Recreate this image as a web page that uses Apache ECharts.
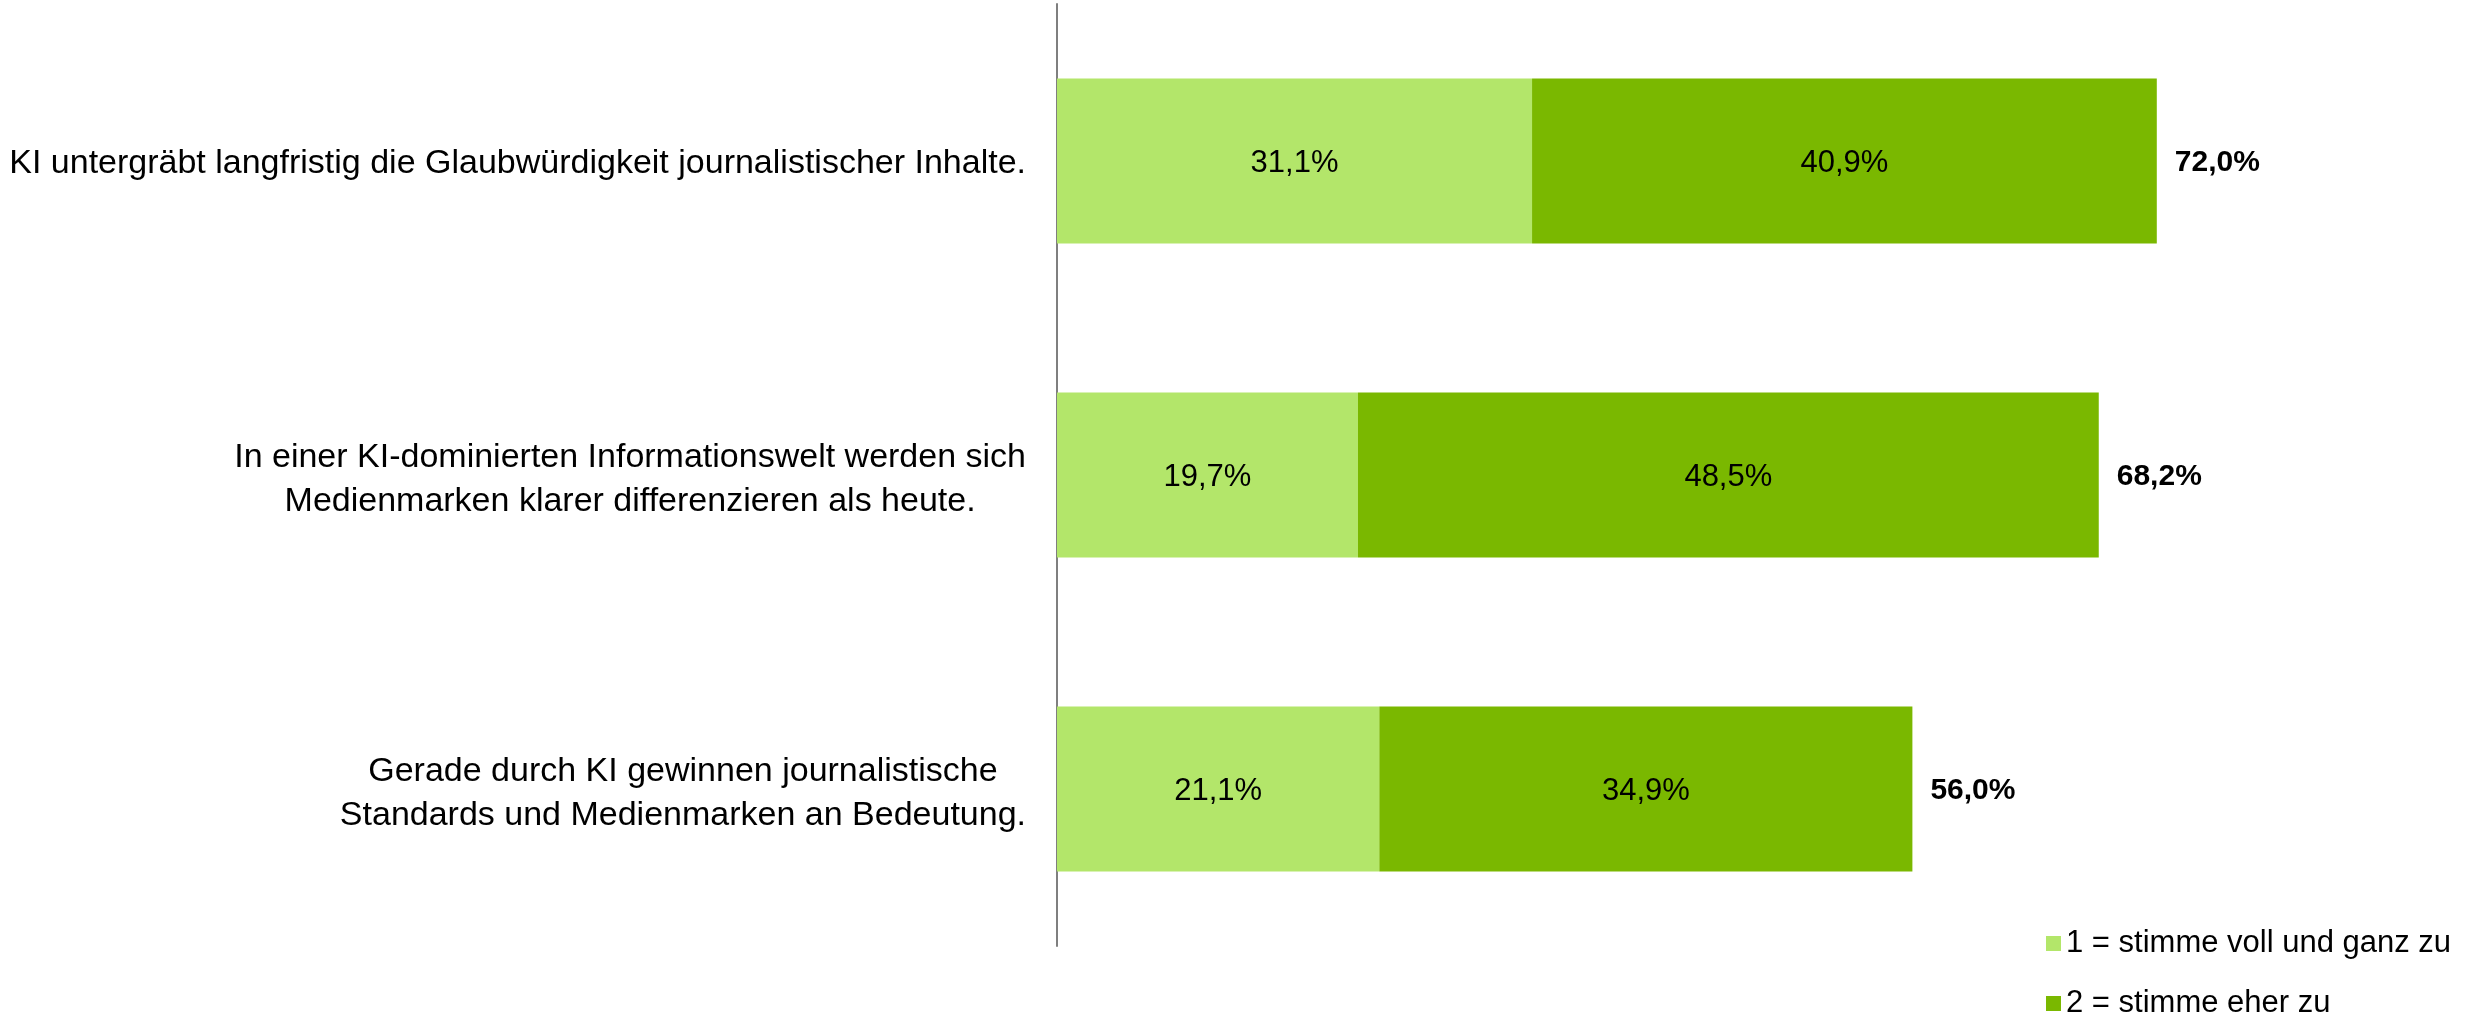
<!DOCTYPE html>
<html>
<head>
<meta charset="utf-8">
<script src="https://cdn.jsdelivr.net/npm/echarts@6/dist/echarts.min.js"></script>
<style>
  html, body { margin: 0; padding: 0; background: #fff; }
  #main { width: 2470px; height: 1016px; }
</style>
</head>
<body>
<div id="main"></div>
<script>
var categories = [
  'KI untergräbt langfristig die Glaubwürdigkeit journalistischer Inhalte.',
  'In einer KI-dominierten Informationswelt werden sich\nMedienmarken klarer differenzieren als heute.',
  'Gerade durch KI gewinnen journalistische\nStandards und Medienmarken an Bedeutung.'
];
var voll = [31.1, 19.7, 21.1];
var eher = [40.9, 48.5, 34.9];
var totals = [72.0, 68.2, 56.0];
var seriesNames = ['1 = stimme voll und ganz zu', '2 = stimme eher zu'];

var FONT = 'Liberation Sans, Arial, sans-serif';

function pct(v) {
  return v.toFixed(1).replace('.', ',') + '%';
}

function legendAt(top, name) {
  return {
    orient: 'vertical',
    left: 2041,
    top: top,
    itemWidth: 15,
    itemHeight: 15,
    icon: 'rect',
    textStyle: { fontFamily: FONT, fontSize: 31, color: '#000' },
    data: [name]
  };
}

var myChart = echarts.init(document.getElementById('main'));
var option = {
  animation: false,
  color: ['#b3e66a', '#7ab800'],
  grid: {
    left: 1057,
    top: 4,
    width: 1222,
    height: 942
  },
  legend: [legendAt(923, seriesNames[0]), legendAt(983, seriesNames[1])],
  xAxis: {
    type: 'value',
    min: 0,
    max: 80,
    show: false
  },
  yAxis: {
    type: 'category',
    inverse: true,
    data: categories,
    axisLine: { show: true, lineStyle: { color: '#7f7f7f', width: 2 } },
    axisTick: { show: false },
    axisLabel: {
      margin: 31,
      formatter: function (v) {
        var lines = v.split('\n');
        var st = lines.length > 1 ? 'm' : 'c';
        return lines.map(function (l) { return '{' + st + '|' + l + '}'; }).join('\n');
      },
      rich: {
        c: { fontFamily: FONT, fontSize: 34, color: '#000', align: 'center', lineHeight: 44, padding: [6, 0, 0, 0] },
        m: { fontFamily: FONT, fontSize: 34, color: '#000', align: 'center', lineHeight: 44, padding: [10, 0, 0, 0] }
      }
    }
  },
  series: [{
    name: seriesNames[0],
    type: 'bar',
    stack: 'a',
    barWidth: '52.5%',
    data: voll,
    label: {
      show: true,
      position: 'inside',
      offset: [0, 2],
      fontFamily: FONT,
      fontSize: 31,
      color: '#000',
      formatter: function (p) { return pct(p.value); }
    }
  }, {
    name: seriesNames[1],
    type: 'bar',
    stack: 'a',
    barWidth: '52.5%',
    data: eher,
    label: {
      show: true,
      position: 'inside',
      offset: [0, 2],
      fontFamily: FONT,
      fontSize: 31,
      color: '#000',
      formatter: function (p) { return pct(p.value); }
    }
  }, {
    name: 'Summe',
    type: 'bar',
    stack: 'a',
    barWidth: '52.5%',
    data: totals.map(function () { return 0; }),
    itemStyle: { color: 'transparent' },
    label: {
      show: true,
      position: 'right',
      distance: 18,
      offset: [0, 2],
      fontFamily: FONT,
      fontSize: 30,
      fontWeight: 'bold',
      color: '#000',
      formatter: function (p) { return pct(totals[p.dataIndex]); }
    }
  }]
};
myChart.setOption(option);
</script>
</body>
</html>
